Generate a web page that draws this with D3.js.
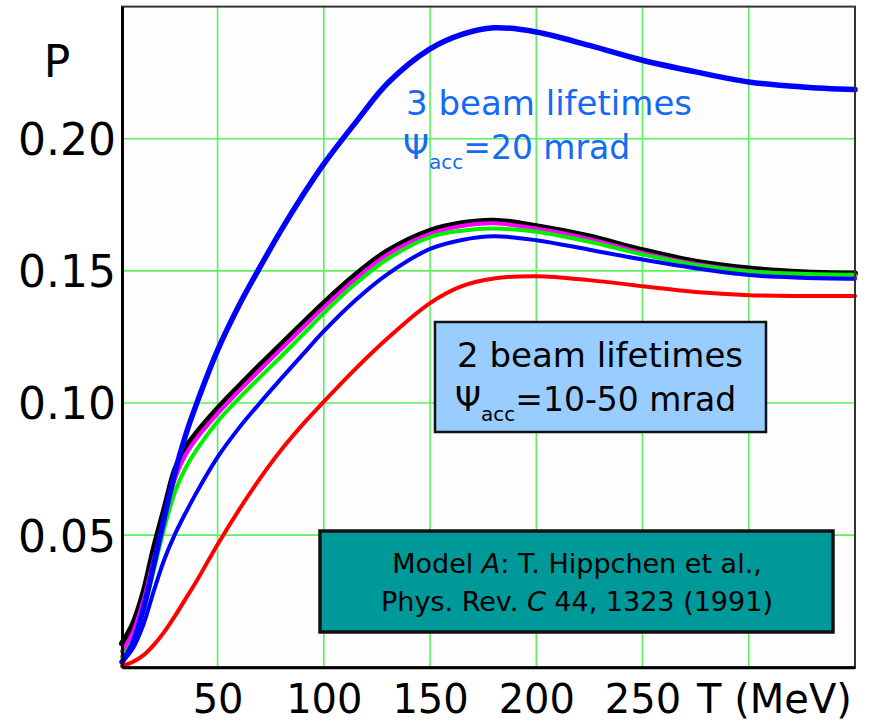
<!DOCTYPE html>
<html>
<head>
<meta charset="utf-8">
<script src="https://cdn.jsdelivr.net/npm/d3@7/dist/d3.min.js"></script>
<style>
  html, body { margin: 0; padding: 0; background: #ffffff; }
  svg text { font-family: "DejaVu Sans", "Noto Sans", sans-serif; }
</style>
</head>
<body>
<svg id="chart" width="879" height="725"></svg>
<script>
// Kinetic energy grid T (MeV) shared by all curves
const T = [5, 10, 15, 20, 25, 30, 35, 40, 50, 60, 70, 80, 90, 100, 115, 130, 150, 165, 180, 200, 225, 250, 275, 300, 325, 350];

// Polarization P for each model curve
const blue3 = [0.002, 0.009, 0.022, 0.039, 0.057, 0.074, 0.088, 0.0995, 0.1200, 0.1368, 0.1515, 0.1655, 0.1785, 0.1905, 0.2062, 0.2210, 0.2340, 0.2395, 0.2420, 0.2404, 0.2353, 0.2297, 0.2253, 0.2215, 0.2196, 0.2186];
const black = [0.009, 0.016, 0.028, 0.045, 0.060, 0.0748, 0.0830, 0.0885, 0.0978, 0.1062, 0.1143, 0.1222, 0.1300, 0.1378, 0.1485, 0.1575, 0.1652, 0.1680, 0.1690, 0.1669, 0.1630, 0.1578, 0.1535, 0.1509, 0.1495, 0.1490];
const magenta = [0.006, 0.013, 0.025, 0.041, 0.056, 0.0715, 0.0805, 0.0865, 0.0960, 0.1045, 0.1126, 0.1205, 0.1284, 0.1362, 0.1470, 0.1562, 0.1640, 0.1670, 0.1680, 0.1660, 0.1620, 0.1568, 0.1526, 0.1500, 0.1484, 0.1478];
const green = [0.004, 0.010, 0.021, 0.037, 0.053, 0.0665, 0.0755, 0.0822, 0.0930, 0.1017, 0.1098, 0.1177, 0.1258, 0.1340, 0.1452, 0.1545, 0.1628, 0.1652, 0.1660, 0.1648, 0.1610, 0.1562, 0.1522, 0.1498, 0.1489, 0.1485];
const blue2 = [0.002, 0.007, 0.016, 0.029, 0.041, 0.0505, 0.0585, 0.0660, 0.0795, 0.0905, 0.1001, 0.1093, 0.1183, 0.1272, 0.1390, 0.1488, 0.1583, 0.1617, 0.1631, 0.1616, 0.1580, 0.1543, 0.1510, 0.1484, 0.1474, 0.1470];
const red = [0.0005, 0.002, 0.0045, 0.0085, 0.0135, 0.0195, 0.0260, 0.0325, 0.0465, 0.0595, 0.0715, 0.0823, 0.0918, 0.1005, 0.1130, 0.1245, 0.1378, 0.1442, 0.1471, 0.1480, 0.1465, 0.1442, 0.1420, 0.1408, 0.1405, 0.1405];

// Tick values and labels
const xTicks = [50, 100, 150, 200, 250];
const xGrid = [50, 100, 150, 200, 250, 300];
const yTicks = [0.05, 0.10, 0.15, 0.20];

// Draw order: the bundle first (black underneath), then red and the 3-lifetime curve
const series = [
  { name: "black", values: black, color: "#000000", width: 6 },
  { name: "magenta", values: magenta, color: "#ff00ff", width: 4 },
  { name: "green", values: green, color: "#00ee00", width: 4 },
  { name: "blue2", values: blue2, color: "#0000ff", width: 4 },
  { name: "red", values: red, color: "#ff0000", width: 4 },
  { name: "blue3", values: blue3, color: "#0000ff", width: 5.5 }
];

const svg = d3.select("#chart");
const x = d3.scaleLinear().domain([5, 350]).range([122, 855]);
const y = d3.scaleLinear().domain([0, 0.25]).range([667.3, 6.6]);

// plot background
svg.append("rect")
  .attr("x", x(5)).attr("y", y(0.25))
  .attr("width", x(350) - x(5)).attr("height", y(0) - y(0.25))
  .attr("fill", "#fdfdfd");

// grid
const grid = svg.append("g").attr("stroke", "#5cf05c").attr("stroke-width", 1.6);
grid.selectAll("line.v").data(xGrid).join("line").attr("class", "v")
  .attr("x1", d => x(d)).attr("x2", d => x(d))
  .attr("y1", y(0)).attr("y2", y(0.25));
grid.selectAll("line.h").data(yTicks).join("line").attr("class", "h")
  .attr("x1", x(5)).attr("x2", x(350))
  .attr("y1", d => y(d)).attr("y2", d => y(d));

// curves
const line = d3.line().x(d => x(d[0])).y(d => y(d[1])).curve(d3.curveCatmullRom.alpha(0.5));
svg.append("g").attr("fill", "none").attr("stroke-linejoin", "round").attr("stroke-linecap", "round")
  .selectAll("path").data(series).join("path")
  .attr("d", s => line(T.map((t, i) => [t, s.values[i]])))
  .attr("stroke", s => s.color)
  .attr("stroke-width", s => s.width);

// frame
svg.append("rect")
  .attr("x", x(5)).attr("y", y(0.25))
  .attr("width", x(350) - x(5)).attr("height", y(0) - y(0.25))
  .attr("fill", "none").attr("stroke", "#333333").attr("stroke-width", 2);

// axes
const yAxis = d3.axisLeft(y).tickValues(yTicks).tickSize(0).tickPadding(6).tickFormat(d3.format(".2f"));
const gy = svg.append("g").attr("transform", `translate(${x(5)},0)`).call(yAxis);
gy.select(".domain").attr("stroke", "#000").attr("stroke-width", 3);
gy.selectAll("text").attr("font-size", 44).attr("fill", "#000").attr("dy", "0.36em")
  .style("font-family", "'DejaVu Sans', sans-serif");

const xAxis = d3.axisBottom(x).tickValues(xTicks).tickSize(0).tickPadding(17).tickFormat(d3.format("d"));
const gx = svg.append("g").attr("transform", `translate(0,${y(0)})`).call(xAxis);
gx.select(".domain").attr("stroke", "#000").attr("stroke-width", 3);
gx.selectAll("text").attr("font-size", 40).attr("fill", "#000")
  .style("font-family", "'DejaVu Sans', sans-serif");

// axis titles
svg.append("text").attr("x", 57).attr("y", 77).attr("text-anchor", "middle")
  .attr("font-size", 44).text("P");
svg.append("text").attr("x", 697).attr("y", 713).attr("text-anchor", "start")
  .attr("font-size", 40).text("T (MeV)");

// "3 beam lifetimes" annotation
const ann = svg.append("g").attr("fill", "#1469f5");
ann.append("text").attr("x", 406).attr("y", 115).attr("font-size", 34).text("3 beam lifetimes");
const a2 = ann.append("text").attr("x", 403).attr("y", 159).attr("font-size", 33);
a2.append("tspan").text("Ψ");
a2.append("tspan").attr("font-size", 20).attr("dy", 10).text("acc");
a2.append("tspan").attr("dy", -10).text("=20 mrad");

// "2 beam lifetimes" box
svg.append("rect").attr("x", 435).attr("y", 322).attr("width", 331).attr("height", 110)
  .attr("fill", "#99ccff").attr("stroke", "#111").attr("stroke-width", 2.5);
const b = svg.append("g").attr("fill", "#000");
b.append("text").attr("x", 457).attr("y", 367).attr("font-size", 34).text("2 beam lifetimes");
const b2 = b.append("text").attr("x", 455).attr("y", 411).attr("font-size", 33);
b2.append("tspan").text("Ψ");
b2.append("tspan").attr("font-size", 20).attr("dy", 10).text("acc");
b2.append("tspan").attr("dy", -10).text("=10-50 mrad");

// reference box
svg.append("rect").attr("x", 320).attr("y", 531).attr("width", 513).attr("height", 101)
  .attr("fill", "#009999").attr("stroke", "#111").attr("stroke-width", 3.5);
const r = svg.append("g").attr("fill", "#000").attr("text-anchor", "middle").attr("font-size", 27);
const r1 = r.append("text").attr("x", 577).attr("y", 573);
r1.append("tspan").text("Model ");
r1.append("tspan").attr("font-style", "italic").text("A");
r1.append("tspan").text(": T. Hippchen et al.,");
const r2 = r.append("text").attr("x", 577).attr("y", 611);
r2.append("tspan").text("Phys. Rev. ");
r2.append("tspan").attr("font-style", "italic").text("C");
r2.append("tspan").text(" 44, 1323 (1991)");
</script>
</body>
</html>
